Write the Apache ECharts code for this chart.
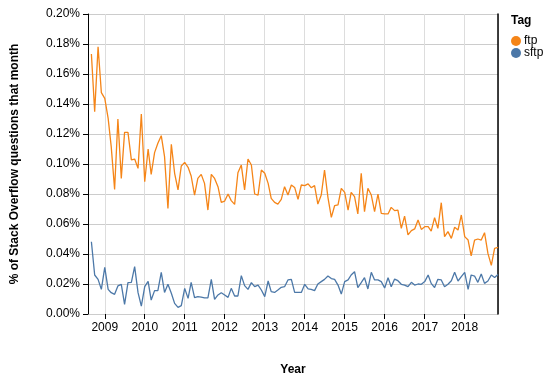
<!DOCTYPE html>
<html>
<head>
<meta charset="utf-8">
<script src="https://cdn.jsdelivr.net/npm/echarts@6/dist/echarts.min.js"></script>
<style>
html,body{margin:0;padding:0;background:#fff;}
#c{width:558px;height:382px;}
</style>
</head>
<body>
<div id="c"></div>
<script>
// first month of data and number of months
const startYear = 2008, startMonth = 9; // 2008-09
const tags = ['ftp', 'sftp'];
// % of Stack Overflow questions that month (in percent units)
const ftp = [0.1733,0.1349,0.1782,0.1476,0.1438,0.1304,0.1116,0.0831,0.1300,0.0904,
0.1211,0.1211,0.1027,0.1033,0.0971,0.1333,0.0882,0.1100,0.0931,0.1076,
0.1138,0.1189,0.1049,0.0704,0.1131,0.0938,0.0827,0.0987,0.1011,0.0978,
0.0920,0.0793,0.0904,0.0931,0.0871,0.0693,0.0931,0.0904,0.0849,0.0744,
0.0753,0.0800,0.0756,0.0731,0.0942,0.0993,0.0827,0.1033,0.0993,0.0800,
0.0793,0.0960,0.0938,0.0871,0.0771,0.0744,0.0733,0.0764,0.0849,0.0793,
0.0860,0.0844,0.0764,0.0860,0.0856,0.0867,0.0842,0.0856,0.0733,0.0793,
0.0960,0.0778,0.0644,0.0722,0.0727,0.0838,0.0811,0.0693,0.0811,0.0782,
0.0667,0.0938,0.0682,0.0838,0.0793,0.0682,0.0800,0.0671,0.0667,0.0667,
0.0711,0.0689,0.0693,0.0571,0.0653,0.0527,0.0556,0.0567,0.0627,0.0564,
0.0582,0.0582,0.0553,0.0642,0.0571,0.0742,0.0516,0.0549,0.0504,0.0578,
0.0560,0.0660,0.0516,0.0493,0.0387,0.0493,0.0500,0.0493,0.0542,0.0404,
0.0324,0.0438,0.0444];
const sftp = [0.0482,0.0260,0.0231,0.0164,0.0311,0.0164,0.0142,0.0131,0.0187,0.0198,
0.0064,0.0209,0.0211,0.0316,0.0142,0.0053,0.0182,0.0218,0.0093,0.0156,
0.0156,0.0278,0.0144,0.0198,0.0138,0.0071,0.0044,0.0056,0.0171,0.0104,
0.0211,0.0109,0.0116,0.0113,0.0107,0.0107,0.0231,0.0098,0.0127,0.0142,
0.0127,0.0111,0.0171,0.0120,0.0120,0.0256,0.0189,0.0164,0.0209,0.0182,
0.0193,0.0160,0.0116,0.0220,0.0149,0.0144,0.0160,0.0178,0.0182,0.0227,
0.0231,0.0144,0.0144,0.0144,0.0198,0.0167,0.0164,0.0156,0.0200,0.0216,
0.0231,0.0253,0.0236,0.0231,0.0193,0.0133,0.0216,0.0227,0.0260,0.0282,
0.0176,0.0209,0.0242,0.0167,0.0278,0.0227,0.0227,0.0216,0.0173,0.0242,
0.0182,0.0233,0.0222,0.0198,0.0193,0.0182,0.0211,0.0193,0.0200,0.0198,
0.0216,0.0260,0.0204,0.0176,0.0231,0.0227,0.0182,0.0198,0.0222,0.0278,
0.0220,0.0249,0.0278,0.0164,0.0260,0.0253,0.0211,0.0267,0.0204,0.0220,
0.0260,0.0244,0.0264];
const colors = ['#f58518', '#4c78a8'];
const yTicks = [0, 0.02, 0.04, 0.06, 0.08, 0.10, 0.12, 0.14, 0.16, 0.18, 0.20];

function monthStr(i) {
  const m0 = startMonth - 1 + i;
  const y = startYear + Math.floor(m0 / 12);
  const m = (m0 % 12) + 1;
  return y + '-' + String(m).padStart(2, '0') + '-01';
}
const months = ftp.map((_, i) => monthStr(i));

const FONT = '"Liberation Sans", Arial, sans-serif';
const chart = echarts.init(document.getElementById('c'), null, {renderer: 'canvas'});
chart.setOption({
  animation: false,
  textStyle: {fontFamily: FONT},
  grid: {left: 88, top: 14, right: 60, bottom: 68, containLabel: false},
  title: {text: 'Tag', left: 506, top: 10, textStyle: {fontFamily: FONT, fontSize: 12, fontWeight: 'bold', color: '#000'}},
  legend: {
    data: tags, orient: 'vertical', left: 506, top: 30, icon: 'circle',
    itemWidth: 10, itemHeight: 10, itemGap: 0,
    textStyle: {fontFamily: FONT, fontSize: 12, color: '#000', padding: [0,0,0,-2]}
  },
  xAxis: {
    type: 'time',
    min: '2008-08-01', max: '2018-11-01',
    minInterval: 365 * 86400000, maxInterval: 366 * 86400000,
    name: 'Year', nameLocation: 'middle', nameGap: 50,
    nameTextStyle: {fontFamily: FONT, fontSize: 12, fontWeight: 'bold', color: '#000'},
    axisLine: {show: false},
    axisTick: {show: true, length: 5, lineStyle: {color: '#000'}},
    axisLabel: {fontFamily: FONT, fontSize: 12, color: '#000', formatter: '{yyyy}', showMinLabel: false, showMaxLabel: false, margin: 8},
    splitLine: {show: true, lineStyle: {color: '#ddd', width: 1}}
  },
  yAxis: [{
    type: 'value', min: 0, max: 0.20, interval: 0.02,
    name: '% of Stack Overflow questions that month', nameLocation: 'middle', nameGap: 67,
    nameTextStyle: {fontFamily: FONT, fontSize: 12, fontWeight: 'bold', color: '#000'},
    axisLine: {show: true, lineStyle: {color: '#000'}},
    axisTick: {show: true, length: 5, lineStyle: {color: '#000'}},
    axisLabel: {fontFamily: FONT, fontSize: 12, color: '#000', margin: 8,
      formatter: v => v.toFixed(2) + '%'},
    splitLine: {show: true, lineStyle: {color: '#ccc', width: 1}}
  }, {
    type: 'value', min: 0, max: 0.20, position: 'right',
    axisLine: {show: true, onZero: false, lineStyle: {color: '#000', width: 1.5}},
    axisTick: {show: false}, axisLabel: {show: false}, splitLine: {show: false}
  }],
  series: [
    {name: tags[0], type: 'line', data: months.map((m, i) => [m, ftp[i]]), showSymbol: false, symbol: 'none',
     lineStyle: {color: colors[0], width: 1.3}, itemStyle: {color: colors[0]}},
    {name: tags[1], type: 'line', data: months.map((m, i) => [m, sftp[i]]), showSymbol: false, symbol: 'none',
     lineStyle: {color: colors[1], width: 1.3}, itemStyle: {color: colors[1]}}
  ]
});
</script>
</body>
</html>
